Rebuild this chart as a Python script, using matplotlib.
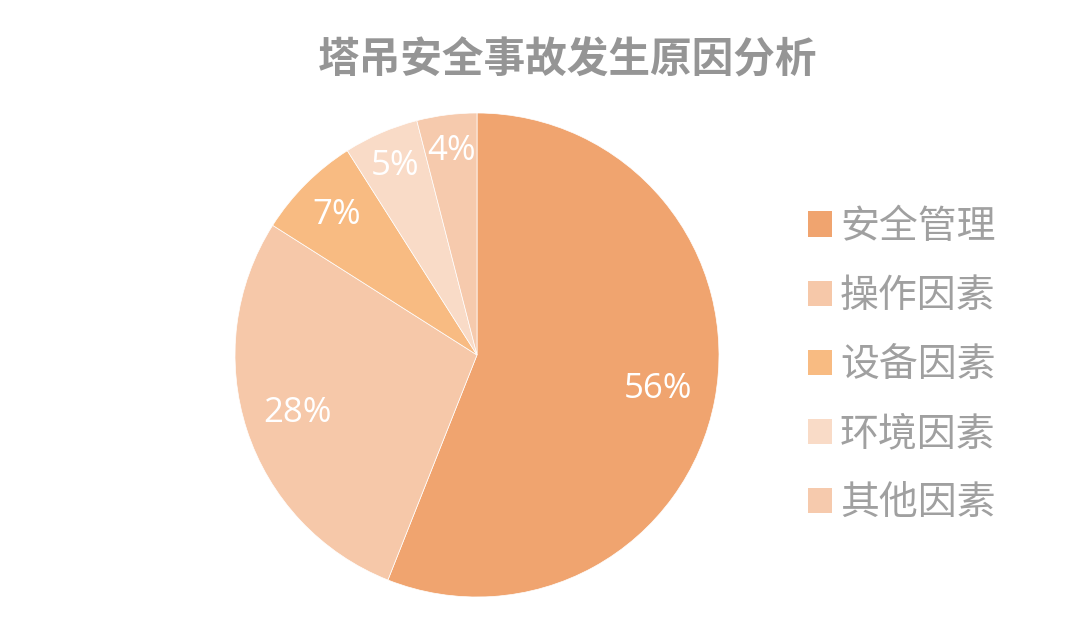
import matplotlib
matplotlib.use("Agg")
import matplotlib.pyplot as plt
from matplotlib.patches import Patch
import numpy as np

plt.rcParams["font.family"] = ["Noto Sans CJK SC", "DejaVu Sans"]

title = "塔吊安全事故发生原因分析"
categories = ["安全管理", "操作因素", "设备因素", "环境因素", "其他因素"]
shares = [56, 28, 7, 5, 4]
colors = ["#F0A46F", "#F6C8A9", "#F8BB82", "#F9DBC7", "#F6CAAD"]
# radial position of each percentage label (fraction of radius)
label_r = [0.76, 0.78, 0.82, 0.85, 0.85]

W, H = 1080, 640
fig = plt.figure(figsize=(W / 100, H / 100), dpi=100)

cx, cy, r = 477, 355, 242
ax = fig.add_axes([(cx - r) / W, (H - cy - r) / H, 2 * r / W, 2 * r / H])
wedges, texts, autotexts = ax.pie(
    shares, colors=colors, startangle=90, counterclock=False,
    autopct="%d%%", pctdistance=0.8,
    wedgeprops=dict(edgecolor="white", linewidth=0.5),
    textprops=dict(color="white", fontsize=25, family="Open Sans"),
)
ax.set_xlim(-1, 1)
ax.set_ylim(-1, 1)
ax.set_aspect("equal")

for w, t, d in zip(wedges, autotexts, label_r):
    ang = np.deg2rad((w.theta1 + w.theta2) / 2)
    t.set_position((d * np.cos(ang), d * np.sin(ang)))

fig.text(568 / W, 1 - 60 / H, title, ha="center", va="center",
         fontsize=30, fontweight="bold", color="#959595")

handles = [Patch(facecolor=c, edgecolor="none") for c in colors]
leg = fig.legend(handles, categories, loc="center left",
                 bbox_to_anchor=(773 / W, 1 - 365 / H), frameon=False,
                 fontsize=28, labelcolor="#A0A0A0", handlelength=0.62,
                 handleheight=0.62, handletextpad=0.2, labelspacing=0.75)

fig.savefig("out.png", dpi=100, facecolor="white")
